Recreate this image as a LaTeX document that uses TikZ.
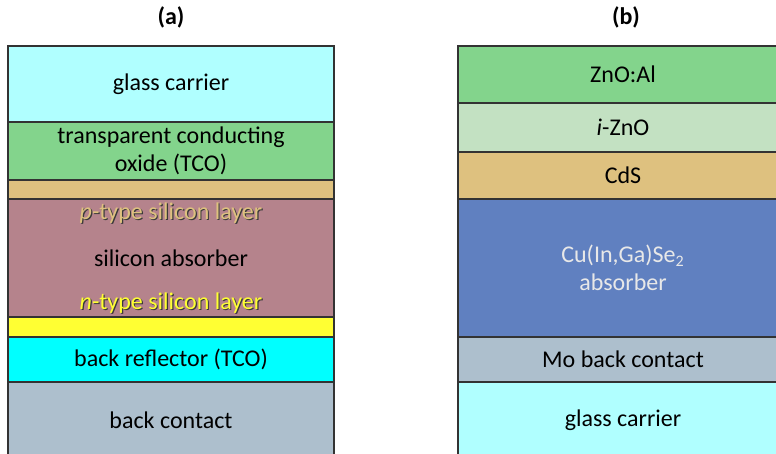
\documentclass[tikz,border=0pt]{standalone}
\usepackage{fontspec}
\setmainfont{Carlito}
\usetikzlibrary{positioning}

\definecolor{glassc}{HTML}{B0FFFF}
\definecolor{tcoc}{HTML}{83D48C}
\definecolor{tanc}{HTML}{DEC17F}
\definecolor{siliconc}{HTML}{B5838C}
\definecolor{nlayerc}{HTML}{FFFF33}
\definecolor{reflc}{HTML}{00FFFF}
\definecolor{contactc}{HTML}{ADBFCD}
\definecolor{izno}{HTML}{C3E1C2}
\definecolor{cigsc}{HTML}{6080C0}
\definecolor{cigstext}{HTML}{E8E8E8}
\definecolor{shadowc}{HTML}{3A3A3A}

\tikzset{
	layer/.style={draw=black!80, line width=0.6pt, inner sep=0pt, outer sep=0pt,
		align=center, font=\fontsize{12}{14}\selectfont},
	leftlayer/.style={layer, minimum width=163pt},
	rightlayer/.style={layer, minimum width=165pt},
	panel/.style={font=\fontsize{12}{14}\selectfont\bfseries},
	dopedtext/.style={font=\fontsize{12}{14}\selectfont, inner sep=0pt},
}

\begin{document}
\begin{tikzpicture}[x=0.5pt,y=-0.5pt]
	% frame of the whole figure (pixels of the original)
	\useasboundingbox (0,0) rectangle (776,454);
	\begin{scope}
		\clip (0,0) rectangle (776,454);
		
		% (a) thin film silicon cell
		\node[leftlayer, fill=glassc, minimum height=38pt, anchor=north west] (a-glass) at (8,46) {glass carrier};
		\node[leftlayer, fill=tcoc, minimum height=29pt, below=0pt of a-glass] (a-tco) {transparent conducting\\oxide (TCO)};
		\node[leftlayer, fill=tanc, minimum height=9.5pt, below=0pt of a-tco] (a-tan) {};
		\node[leftlayer, fill=siliconc, minimum height=59pt, below=0pt of a-tan] (a-si) {silicon absorber};
		\node[leftlayer, fill=nlayerc, minimum height=10pt, below=0pt of a-si] (a-yellow) {};
		\node[leftlayer, fill=reflc, minimum height=22.5pt, below=0pt of a-yellow] (a-refl) {back reflector (TCO)};
		\node[leftlayer, fill=contactc, minimum height=38pt, below=0pt of a-refl] (a-contact) {back contact};
		
		% doped layers, text with a shadow
		\node[dopedtext, text=shadowc] (a-pshadow) at ([xshift=0.6pt,yshift=-7.6pt]a-si.north) {\textit{p}-type silicon layer};
		\node[dopedtext, text=tanc] (a-ptype) at ([yshift=-7pt]a-si.north) {\textit{p}-type silicon layer};
		\node[dopedtext, text=shadowc] (a-nshadow) at ([xshift=0.6pt,yshift=6.4pt]a-si.south) {\textit{n}-type silicon layer};
		\node[dopedtext, text=nlayerc] (a-ntype) at ([yshift=7pt]a-si.south) {\textit{n}-type silicon layer};
		
		% (b) CIGS cell
		\node[rightlayer, fill=tcoc, minimum height=28.5pt, anchor=north west] (b-zno) at (458,46) {ZnO:Al};
		\node[rightlayer, fill=izno, minimum height=24.5pt, below=0pt of b-zno] (b-izno) {\textit{i}-ZnO};
		\node[rightlayer, fill=tanc, minimum height=23.5pt, below=0pt of b-izno] (b-cds) {CdS};
		\node[rightlayer, fill=cigsc, minimum height=69pt, below=0pt of b-cds, text=cigstext] (b-cigs) {Cu(In,Ga)Se\textsubscript{2}\\absorber};
		\node[rightlayer, fill=contactc, minimum height=22.5pt, below=0pt of b-cigs] (b-mo) {Mo back contact};
		\node[rightlayer, fill=glassc, minimum height=38pt, below=0pt of b-mo] (b-glass) {glass carrier};
	\end{scope}
	
	% panel titles
	\node[panel] (title-a) at (171,17) {(a)};
	\node[panel] (title-b) at (626,17) {(b)};
\end{tikzpicture}
\end{document}
